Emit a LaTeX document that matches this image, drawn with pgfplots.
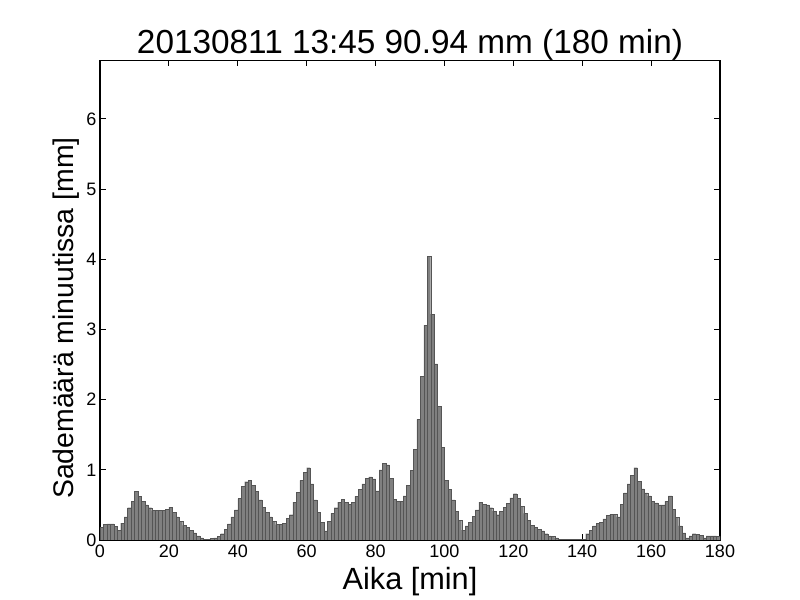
\documentclass[border=0pt]{standalone}
\usepackage{fontspec}
\setmainfont{Liberation Sans}
\usepackage{pgfplots}
\pgfplotsset{compat=1.18}
\definecolor{barfill}{RGB}{128,128,128}
\definecolor{baredge}{RGB}{85,85,85}
\begin{document}
\begin{tikzpicture}
\path[use as bounding box] (0,0) rectangle (600pt,450pt);
\begin{axis}[
  at={(75pt,45pt)}, anchor=south west,
  scale only axis, width=465pt, height=359.5pt,
  xmin=0, xmax=180, ymin=0, ymax=6.83,
  xtick={0,20,...,180}, ytick={0,1,...,6},
  tick align=inside, tick pos=both,
  major tick length=4.2pt,
  minor tick num=0,
  axis line style={line width=0.9pt},
  tick style={line width=0.7pt, black},
  /pgf/number format/assume math mode=true,
  tick label style={font=\fontsize{13.5}{15}\selectfont},
  xticklabel style={inner sep=0pt, anchor=north, yshift=-3.75pt},
  yticklabel style={inner sep=0pt, anchor=east, xshift=-2.5pt},
  every axis title shift=0pt,
  title={20130811 13:45 90.94 mm (180 min)},
  title style={font=\fontsize{25}{29}\selectfont, inner sep=0pt, anchor=base, at={(axis description cs:0.5,1)}, yshift=5pt},
  xlabel={Aika [min]},
  xlabel style={font=\fontsize{23}{26}\selectfont, inner sep=0pt, anchor=base, at={(axis description cs:0.5,0)}, yshift=-36.75pt},
  ylabel={Sademäärä minuutissa [mm]},
  ylabel style={font=\fontsize{21.3}{24}\selectfont, inner sep=0pt, anchor=base, at={(axis description cs:-0.0435,0.463)}},
]
\addplot[ybar interval, fill=barfill, draw=baredge, line width=0.25pt] table {
x y
0 0.18
1 0.22
2 0.23
3 0.23
4 0.19
5 0.14
6 0.24
7 0.33
8 0.46
9 0.55
10 0.69
11 0.62
12 0.55
13 0.50
14 0.46
15 0.42
16 0.42
17 0.42
18 0.42
19 0.44
20 0.47
21 0.39
22 0.33
23 0.27
24 0.21
25 0.18
26 0.14
27 0.10
28 0.06
29 0.03
30 0.01
31 0.01
32 0.02
33 0.03
34 0.05
35 0.09
36 0.15
37 0.23
38 0.33
39 0.43
40 0.59
41 0.76
42 0.83
43 0.85
44 0.78
45 0.69
46 0.57
47 0.47
48 0.39
49 0.33
50 0.27
51 0.22
52 0.22
53 0.24
54 0.31
55 0.36
56 0.54
57 0.68
58 0.85
59 0.96
60 1.03
61 0.80
62 0.57
63 0.39
64 0.25
65 0.13
66 0.27
67 0.38
68 0.46
69 0.54
70 0.58
71 0.54
72 0.51
73 0.54
74 0.62
75 0.72
76 0.80
77 0.88
78 0.90
79 0.87
80 0.70
81 1.00
82 1.09
83 1.07
84 0.88
85 0.58
86 0.55
87 0.55
88 0.63
89 0.78
90 0.99
91 1.29
92 1.72
93 2.33
94 3.06
95 4.04
96 3.22
97 2.51
98 1.90
99 1.32
100 0.85
101 0.72
102 0.57
103 0.41
104 0.28
105 0.14
106 0.20
107 0.25
108 0.34
109 0.43
110 0.54
111 0.51
112 0.50
113 0.46
114 0.41
115 0.36
116 0.41
117 0.47
118 0.52
119 0.60
120 0.66
121 0.59
122 0.48
123 0.38
124 0.28
125 0.21
126 0.18
127 0.15
128 0.13
129 0.09
130 0.06
131 0.05
132 0.03
133 0.01
134 0.01
135 0.01
136 0.01
137 0.01
138 0.01
139 0.01
140 0.01
141 0.09
142 0.14
143 0.20
144 0.24
145 0.25
146 0.30
147 0.35
148 0.37
149 0.37
150 0.33
151 0.51
152 0.67
153 0.80
154 0.92
155 1.03
156 0.84
157 0.73
158 0.67
159 0.63
160 0.55
161 0.53
162 0.50
163 0.50
164 0.55
165 0.63
166 0.44
167 0.32
168 0.20
169 0.10
170 0.03
171 0.06
172 0.09
173 0.08
174 0.07
175 0.03
176 0.06
177 0.06
178 0.06
179 0.05
180 0.05
};
\end{axis}
\end{tikzpicture}
\end{document}
